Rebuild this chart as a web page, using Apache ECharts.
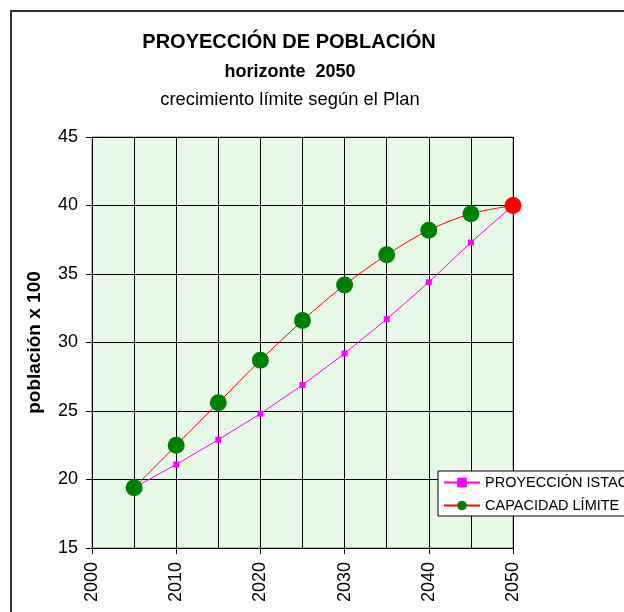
<!DOCTYPE html>
<html>
<head>
<meta charset="utf-8">
<script src="https://cdn.jsdelivr.net/npm/echarts@6/dist/echarts.min.js"></script>
<style>
html,body{margin:0;padding:0;background:#fff;}
#chart{width:624px;height:612px;}
</style>
</head>
<body>
<div id="chart"></div>
<script>
// años y valores (población x 100)
var years = [2005, 2010, 2015, 2020, 2025, 2030, 2035, 2040, 2045, 2050];
var istac = [19.4, 21.1, 22.9, 24.8, 26.9, 29.2, 31.7, 34.4, 37.3, 40.0];
var capacidad = [19.4, 22.5, 25.6, 28.7, 31.6, 34.2, 36.4, 38.2, 39.4, 40.0];
var yTicks = [15, 20, 25, 30, 35, 40, 45];
var xTicks = [2000, 2010, 2020, 2030, 2040, 2050];

var font = 'Liberation Sans, Arial, sans-serif';

var istacData = [];
var capData = [];
for (var i = 0; i < years.length; i++) {
    istacData.push([years[i], istac[i]]);
    if (years[i] == 2050) {
        // último punto en rojo
        capData.push({value: [years[i], capacidad[i]], itemStyle: {color: '#ff0000'}});
    } else {
        capData.push([years[i], capacidad[i]]);
    }
}

var myChart = echarts.init(document.getElementById('chart'));
var option = {
    animation: false,
    textStyle: {fontFamily: font},
    title: [
        {text: 'PROYECCIÓN DE POBLACIÓN', left: 284, top: 27, textAlign: 'center',
            textStyle: {fontSize: 20, fontWeight: 'bold', color: '#000', fontFamily: font}},
        {text: 'horizonte  2050', left: 285, top: 58, textAlign: 'center',
            textStyle: {fontSize: 18, fontWeight: 'bold', color: '#000', fontFamily: font}},
        {text: 'crecimiento límite según el Plan', left: 285, top: 86, textAlign: 'center',
            textStyle: {fontSize: 18.4, fontWeight: 'normal', color: '#000', fontFamily: font}}
    ],
    graphic: [
        {type: 'rect', shape: {x: 11, y: 11, width: 800, height: 800},
            style: {fill: 'none', stroke: '#333', lineWidth: 2}, z: -10}
    ],
    legend: {
        orient: 'vertical',
        left: 438, top: 471,
        padding: [4, 5, 3, 5],
        itemGap: 8,
        itemWidth: 36, itemHeight: 12,
        backgroundColor: '#fff',
        borderColor: '#000', borderWidth: 1,
        textStyle: {fontSize: 14.5, color: '#000', fontFamily: font},
        data: ['PROYECCIÓN ISTAC', 'CAPACIDAD LÍMITE']
    },
    grid: {left: 92, right: 111, top: 137, bottom: 64,
        show: true, backgroundColor: '#e8f8e6', borderColor: '#808080', borderWidth: 1},
    xAxis: {
        type: 'value', min: 2000, max: 2050, interval: 10,
        axisLine: {show: true, onZero: false, lineStyle: {color: '#000'}},
        axisTick: {show: true, length: 6, lineStyle: {color: '#000'}},
        axisLabel: {rotate: 90, fontSize: 18, color: '#000', margin: 14, fontFamily: font,
            formatter: function (v) { return xTicks.indexOf(v) >= 0 ? String(v) : ''; }},
        splitLine: {show: true, lineStyle: {color: '#000', width: 1}},
        minorTick: {show: false, splitNumber: 2},
        minorSplitLine: {show: true, lineStyle: {color: '#000', width: 1}}
    },
    yAxis: {
        type: 'value', min: 15, max: 45, interval: 5,
        name: 'población x 100', nameLocation: 'middle', nameGap: 48, nameRotate: 90,
        nameTextStyle: {fontSize: 19, fontWeight: 'bold', color: '#000', fontFamily: font},
        axisLine: {show: true, lineStyle: {color: '#000'}},
        axisTick: {show: true, length: 6, lineStyle: {color: '#000'}},
        axisLabel: {fontSize: 18, color: '#000', margin: 14, fontFamily: font,
            formatter: function (v) { return yTicks.indexOf(v) >= 0 ? String(v) : ''; }},
        splitLine: {show: true, lineStyle: {color: '#000', width: 1}}
    },
    series: [
        {
            name: 'PROYECCIÓN ISTAC',
            type: 'line',
            data: istacData,
            symbol: 'rect', symbolSize: 6,
            lineStyle: {color: '#ff00ff', width: 1},
            itemStyle: {color: '#ff00ff'},
            z: 3
        },
        {
            name: 'CAPACIDAD LÍMITE',
            type: 'line',
            data: capData,
            smooth: 0.3,
            symbol: 'circle', symbolSize: 17,
            lineStyle: {color: '#ff0000', width: 1},
            itemStyle: {color: '#008000'},
            z: 4
        }
    ]
};
myChart.setOption(option);
</script>
</body>
</html>
